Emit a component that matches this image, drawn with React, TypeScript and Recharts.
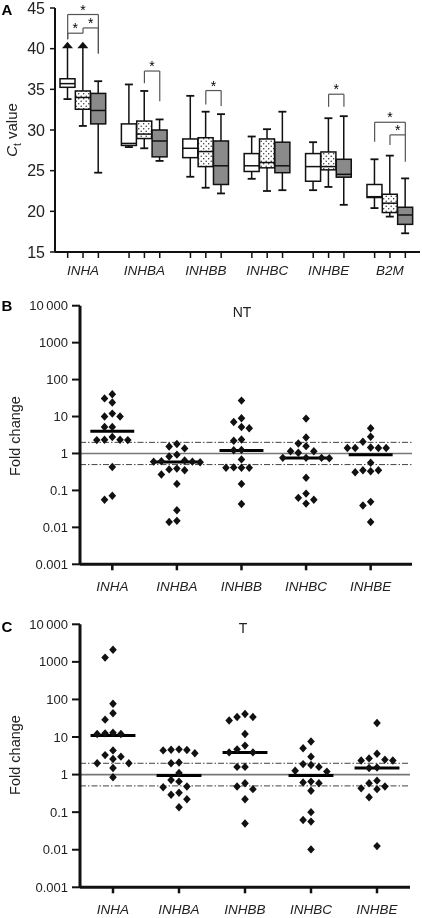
import React from 'react';
import {
  ComposedChart,
  ScatterChart,
  Bar,
  Scatter,
  XAxis,
  YAxis,
  ReferenceLine,
} from 'recharts';

const FONT = '"Liberation Sans", Arial, Helvetica, sans-serif';

// ---- Panel A: Ct values, boxes are [min, q1, median, q3, max]
const ctGenes = ['INHA', 'INHBA', 'INHBB', 'INHBC', 'INHBE', 'B2M'];
const ctTicks = [15, 20, 25, 30, 35, 40, 45];

const normalStats = [
  [33.8, 35.25, 35.7, 36.3, 40.1],
  [27.9, 28.1, 28.35, 30.75, 35.6],
  [24.25, 26.6, 27.75, 28.9, 34.2],
  [24.0, 24.9, 25.6, 27.1, 29.2],
  [22.6, 23.7, 25.5, 27.1, 28.5],
  [20.4, 21.7, 21.8, 23.3, 26.4],
];
const nonTumourStats = [
  [30.5, 32.55, 34.0, 34.8, 40.1],
  [27.75, 28.95, 29.5, 31.1, 34.8],
  [22.9, 25.5, 27.35, 29.05, 32.25],
  [22.5, 25.35, 26.0, 28.9, 30.1],
  [23.0, 25.1, 25.5, 27.3, 31.45],
  [19.35, 19.85, 21.0, 22.1, 26.85],
];
const tumourStats = [
  [24.75, 30.75, 32.4, 34.5, 36.0],
  [26.2, 26.7, 28.65, 30.0, 31.3],
  [22.2, 23.3, 25.6, 28.65, 31.95],
  [22.6, 24.75, 25.6, 28.5, 32.25],
  [20.8, 24.2, 24.55, 26.4, 31.7],
  [17.3, 18.4, 19.55, 20.5, 24.05],
];
// boxes whose upper whisker runs off scale
const offScaleBoxes = ['INHA|0', 'INHA|1'];

// significance brackets: [gene, fromBox, toBox, level, leftEnd, rightEnd]
const brackets: [string, number, number, number, number, number][] = [
  ['INHA', 0, 2, 44.2, 41.15, 39.4],
  ['INHA', 0, 1, 41.9, 41.15, 41.9],
  ['INHA', 1, 2, 42.55, 41.9, 39.4],
  ['INHBA', 1, 2, 37.25, 35.75, 33.55],
  ['INHBB', 1, 2, 34.85, 33.15, 32.95],
  ['INHBE', 1, 2, 34.4, 32.85, 32.85],
  ['B2M', 0, 2, 30.95, 28.55, 26.1],
  ['B2M', 1, 2, 29.4, 28.15, 29.4],
];

// ---- Panels B and C: fold change per sample
const foldGenes = ['INHA', 'INHBA', 'INHBB', 'INHBC', 'INHBE'];
const foldTicks = [0.001, 0.01, 0.1, 1, 10, 100, 1000, 10000];
const foldLimits = [0.5, 2];

const ntFold = [
  [40, 31, 24, 12, 10, 10, 5.2, 5.2, 2.8, 2.35, 2.3, 2.3, 2.35, 0.43, 0.072, 0.056],
  [1.8, 1.55, 1.37, 0.93, 0.83, 0.65, 0.62, 0.6, 0.6, 0.58, 0.39, 0.37, 0.35, 0.27, 0.15, 0.029, 0.015, 0.014],
  [27, 9, 7.1, 5.2, 4.8, 2.4, 2.2, 1.25, 1.22, 0.69, 0.41, 0.41, 0.41, 0.42, 0.15, 0.043],
  [8.8, 2.7, 1.87, 1.58, 1.15, 1.15, 1.05, 0.76, 0.76, 0.74, 0.76, 0.22, 0.082, 0.063, 0.056, 0.044],
  [4.8, 2.84, 2.08, 1.45, 1.4, 1.4, 1.4, 1.4, 0.56, 0.35, 0.31, 0.33, 0.35, 0.049, 0.039, 0.014],
];
const ntMedians = [4.0, 0.59, 1.2, 0.75, 0.93];

const tFold = [
  [2100, 1300, 77, 43, 29, 12.5, 12, 12, 13, 4.4, 3.3, 3.0, 2.6, 2.0, 2.0, 1.5, 0.85],
  [4.6, 4.4, 3.7, 4.5, 4.7, 2.0, 2.1, 1.1, 0.65, 0.72, 0.46, 0.48, 0.29, 0.33, 0.22, 0.135],
  [41, 34, 34, 27.5, 12, 5.9, 4.7, 3.9, 3.9, 1.6, 1.6, 0.59, 0.41, 0.48, 0.22, 0.05],
  [7.6, 5.0, 3.0, 1.9, 1.8, 1.6, 1.27, 1.2, 0.65, 0.62, 0.59, 0.37, 0.1, 0.062, 0.056, 0.0102],
  [23.5, 3.6, 2.7, 2.5, 2.36, 2.36, 1.55, 1.5, 0.69, 0.59, 0.48, 0.43, 0.41, 0.25, 0.0125],
];
const tMedians = [11, 0.95, 3.9, 0.95, 1.5];

// ---------------------------------------------------------------

const groupStats = [normalStats, nonTumourStats, tumourStats];

const boxRows = ctGenes.flatMap((gene, g) => {
  const rows: any[] = groupStats.map((stats, k) => {
    const [min, q1, med, q3, max] = stats[g];
    const slot = `${gene}|${k}`;
    return { slot, range: [min, max], q1, med, q3, group: k, arrow: offScaleBoxes.includes(slot) };
  });
  if (g < ctGenes.length - 1) rows.push({ slot: `gap${g}` });
  return rows;
});
const boxSlots = boxRows.filter((r) => r.range).map((r) => r.slot);

const BoxShape = (props: any) => {
  const { x, y, width, height, payload } = props;
  if (!payload || !payload.range) return null;
  const [min, max] = payload.range;
  const top = Math.min(y, y + height);
  const bottom = Math.max(y, y + height);
  const py = (v: number) => bottom - ((v - min) / (max - min)) * (bottom - top);
  const cx = x + width / 2;
  const yq1 = py(payload.q1);
  const yq3 = py(payload.q3);
  const ymed = py(payload.med);
  const fill = payload.group === 0 ? '#fff' : payload.group === 1 ? 'url(#dotFill)' : '#8a8a8a';
  return (
    <g>
      <line x1={cx} x2={cx} y1={top} y2={bottom} stroke="#111" strokeWidth={1.5} />
      {!payload.arrow && <line x1={cx - 4} x2={cx + 4} y1={top} y2={top} stroke="#111" strokeWidth={1.8} />}
      <line x1={cx - 4} x2={cx + 4} y1={bottom} y2={bottom} stroke="#111" strokeWidth={1.8} />
      <rect x={x} y={yq3} width={width} height={yq1 - yq3} fill={fill} stroke="#111" strokeWidth={1.5} />
      <line x1={x} x2={x + width} y1={ymed} y2={ymed} stroke="#111" strokeWidth={1.5} />
      {payload.arrow && (
        <polygon points={`${cx},${top - 6} ${cx + 5.5},${top + 0.5} ${cx - 5.5},${top + 0.5}`} fill="#111" />
      )}
    </g>
  );
};

const BoxTick = (props: any) => {
  const { x, y, payload } = props;
  const [gene, k] = String(payload.value).split('|');
  if (k !== '1') return null;
  return (
    <text x={x} y={y} dy={15} textAnchor="middle" fontStyle="italic" fontSize={13.5} fill="#222">
      {gene}
    </text>
  );
};

function CtPanel() {
  return (
    <ComposedChart
      width={422}
      height={290}
      data={boxRows}
      margin={{ top: 8, right: 2, bottom: 0, left: 0 }}
      barSize={15}
    >
      <defs>
        <pattern id="dotFill" width="5" height="5" patternUnits="userSpaceOnUse">
          <rect width="5" height="5" fill="#fff" />
          <circle cx="1.2" cy="1.2" r="0.75" fill="#333" />
          <circle cx="3.7" cy="3.7" r="0.75" fill="#333" />
        </pattern>
      </defs>
      <XAxis
        dataKey="slot"
        type="category"
        ticks={boxSlots}
        interval={0}
        height={38}
        padding={{ left: 5, right: 7 }}
        tick={<BoxTick />}
        tickSize={6}
        tickLine={{ stroke: '#111', strokeWidth: 1.5 }}
        axisLine={{ stroke: '#111', strokeWidth: 2 }}
      />
      <YAxis
        type="number"
        domain={[15, 45]}
        ticks={ctTicks}
        interval={0}
        width={55}
        tickSize={5}
        tickMargin={5}
        tick={{ fontSize: 16, fill: '#222' }}
        tickLine={{ stroke: '#111', strokeWidth: 1.5 }}
        axisLine={{ stroke: '#111', strokeWidth: 2 }}
      />
      <Bar dataKey="range" shape={BoxShape} isAnimationActive={false} />
      {brackets.map(([gene, a, b, level, leftEnd, rightEnd], i) => {
        const from = `${gene}|${a}`;
        const to = `${gene}|${b}`;
        const line = { stroke: '#555', strokeWidth: 1.2 };
        return [
          <ReferenceLine
            key={`h${i}`}
            segment={[{ x: from, y: level }, { x: to, y: level }]}
            {...line}
            label={{ value: '*', position: 'top', offset: 0, fontSize: 14, fill: '#000' }}
          />,
          <ReferenceLine key={`l${i}`} segment={[{ x: from, y: level }, { x: from, y: leftEnd }]} {...line} />,
          <ReferenceLine key={`r${i}`} segment={[{ x: to, y: level }, { x: to, y: rightEnd }]} {...line} />,
        ];
      })}
    </ComposedChart>
  );
}

// simple swarm: spread points that would overlap into side columns
function swarmSlots(values: number[], gap = 0.22) {
  const placed: { slot: number; lv: number }[] = [];
  const slots = new Array(values.length).fill(0);
  const order = values.map((_, i) => i).sort((a, b) => values[b] - values[a]);
  for (const i of order) {
    const lv = Math.log10(values[i]);
    for (const s of [0, -1, 1, -2, 2, -3, 3]) {
      if (!placed.some((p) => p.slot === s && Math.abs(p.lv - lv) < gap)) {
        slots[i] = s;
        placed.push({ slot: s, lv });
        break;
      }
    }
  }
  return slots;
}

const Diamond = (props: any) => {
  const { cx, cy } = props;
  return (
    <polygon points={`${cx},${cy - 4.2} ${cx + 3.8},${cy} ${cx},${cy + 4.2} ${cx - 3.8},${cy}`} fill="#111" />
  );
};

const FoldTick = (props: any) => {
  const { x, y, payload } = props;
  return (
    <text x={x} y={y} dy={19} textAnchor="middle" fontStyle="italic" fontSize={13.5} fill="#222">
      {foldGenes[payload.value]}
    </text>
  );
};

const formatFold = (v: number) => (v === 10000 ? '10\u2009000' : String(v));

function FoldPanel({
  values,
  medians,
  height,
  marginTop,
  marginRight,
  xMax,
  axisHeight,
}: {
  values: number[][];
  medians: number[];
  height: number;
  marginTop: number;
  marginRight: number;
  xMax: number;
  axisHeight: number;
}) {
  const points = values.flatMap((vals, i) => {
    const slots = swarmSlots(vals);
    return vals.map((v, j) => ({ x: i + slots[j] * 0.12, y: v }));
  });
  return (
    <ScatterChart width={422} height={height} margin={{ top: marginTop, right: marginRight, bottom: 0, left: 0 }}>
      <XAxis
        type="number"
        dataKey="x"
        domain={[-0.5, xMax]}
        allowDataOverflow
        ticks={[0, 1, 2, 3, 4]}
        interval={0}
        height={axisHeight}
        tick={<FoldTick />}
        tickSize={6}
        tickLine={{ stroke: '#111', strokeWidth: 2.5 }}
        axisLine={{ stroke: '#111', strokeWidth: 3 }}
      />
      <YAxis
        type="number"
        dataKey="y"
        scale="log"
        domain={[0.001, 10000]}
        allowDataOverflow
        ticks={foldTicks}
        interval={0}
        width={80}
        tickSize={8}
        tickMargin={4}
        tickFormatter={formatFold}
        tick={{ fontSize: 13, fill: '#222' }}
        tickLine={{ stroke: '#111', strokeWidth: 2 }}
        axisLine={{ stroke: '#111', strokeWidth: 3 }}
      />
      <ReferenceLine y={1} stroke="#777" strokeWidth={1.6} />
      {foldLimits.map((v) => (
        <ReferenceLine key={v} y={v} stroke="#444" strokeWidth={1} strokeDasharray="6 2 1.5 2" />
      ))}
      <Scatter data={points} shape={Diamond} isAnimationActive={false} />
      {medians.map((m, i) => (
        <ReferenceLine
          key={`m${i}`}
          segment={[{ x: i - 0.34, y: m }, { x: i + 0.34, y: m }]}
          stroke="#000"
          strokeWidth={3}
        />
      ))}
    </ScatterChart>
  );
}

const abs = (left: number, top: number, extra: React.CSSProperties = {}): React.CSSProperties => ({
  position: 'absolute',
  left,
  top,
  transform: 'translate(-50%, -50%)',
  whiteSpace: 'nowrap',
  lineHeight: 1,
  color: '#222',
  ...extra,
});

export default function App() {
  return (
    <div style={{ position: 'absolute', left: 0, top: 0, width: 422, height: 918, fontFamily: FONT, background: '#fff' }}>
      <div style={{ position: 'absolute', left: 0, top: 0, willChange: 'transform' }}>
        <CtPanel />
      </div>
      <div style={{ position: 'absolute', left: 0, top: 285 }}>
        <FoldPanel values={ntFold} medians={ntMedians} height={315} marginTop={20.7} marginRight={10} xMax={4.64} axisHeight={35.7} />
      </div>
      <div style={{ position: 'absolute', left: 0, top: 600 }}>
        <FoldPanel values={tFold} medians={tMedians} height={318} marginTop={24.3} marginRight={12} xMax={4.5} axisHeight={30.7} />
      </div>

      <div style={abs(7, 9, { fontWeight: 'bold', fontSize: 15, color: '#000' })}>A</div>
      <div style={abs(7, 305, { fontWeight: 'bold', fontSize: 15, color: '#000' })}>B</div>
      <div style={abs(7, 626, { fontWeight: 'bold', fontSize: 15, color: '#000' })}>C</div>

      <div style={abs(13, 130, { fontSize: 15, transform: 'translate(-50%, -50%) rotate(-90deg)' })}>
        <i>C</i>
        <span style={{ fontSize: 10, verticalAlign: 'sub' }}>t</span> value
      </div>
      <div style={abs(15, 436, { fontSize: 14.5, transform: 'translate(-50%, -50%) rotate(-90deg)' })}>Fold change</div>
      <div style={abs(15, 755, { fontSize: 14.5, transform: 'translate(-50%, -50%) rotate(-90deg)' })}>Fold change</div>

      <div style={abs(242, 312, { fontSize: 14 })}>NT</div>
      <div style={abs(243, 628, { fontSize: 14 })}>T</div>
    </div>
  );
}
